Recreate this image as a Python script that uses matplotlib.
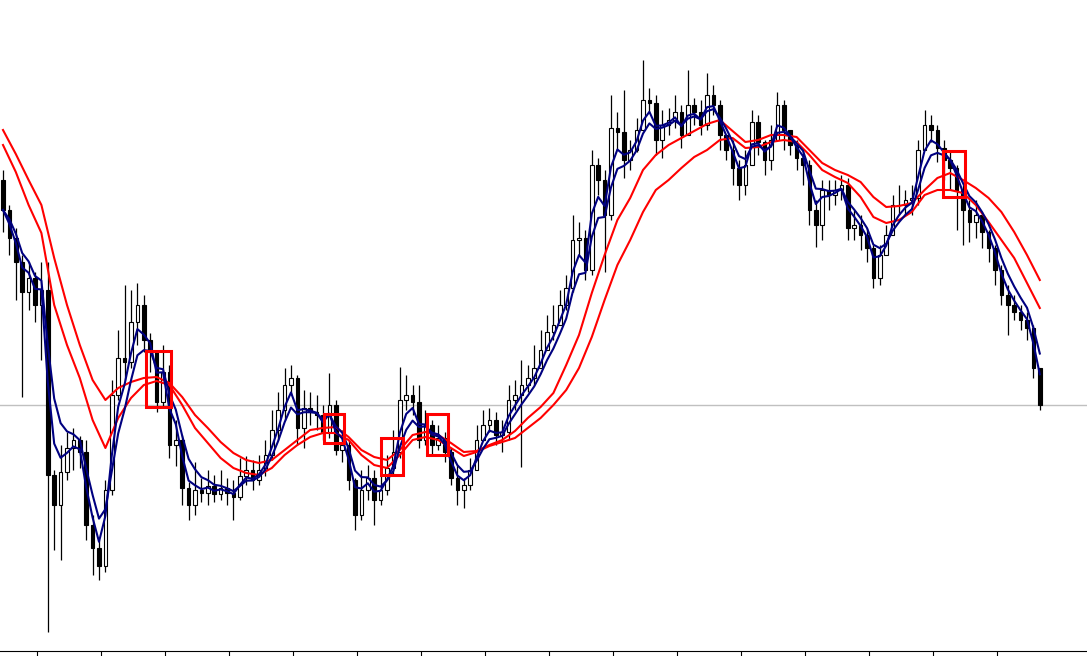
import numpy as np
import pandas as pd
import matplotlib
matplotlib.use('Agg')
import matplotlib.pyplot as plt
from matplotlib.patches import Rectangle

# candle data (price units, one bar per entry, open = previous close)
first_open = 820
closes = [790, 762, 738, 708, 722, 695, 710, 525, 495, 528,
          552, 560, 548, 475, 452, 434, 510, 605, 642, 638,
          678, 695, 660, 648, 598, 628, 555, 560, 512, 495,
          510, 507, 514, 506, 512, 507, 503, 524, 530, 520,
          530, 545, 570, 590, 615, 622, 572, 592, 588, 585,
          568, 595, 550, 555, 520, 485, 510, 522, 500, 510,
          532, 548, 600, 605, 598, 560, 575, 555, 562, 548,
          522, 510, 515, 530, 560, 575, 580, 565, 568, 600,
          605, 615, 622, 632, 650, 668, 675, 695, 712, 760,
          762, 730, 835, 820, 785, 872, 868, 840, 850, 870,
          900, 897, 860, 875, 880, 888, 865, 895, 888, 875,
          905, 895, 865, 850, 832, 815, 835, 878, 858, 840,
          860, 895, 870, 855, 842, 835, 790, 775, 810, 805,
          810, 815, 772, 775, 765, 752, 722, 745, 765, 795,
          795, 800, 802, 850, 875, 870, 852, 840, 832, 810,
          790, 778, 785, 768, 752, 730, 705, 695, 688, 680,
          672, 632, 595]
highs = [830, 795, 772, 745, 738, 728, 738, 738, 530, 555,
         568, 572, 564, 560, 485, 460, 520, 620, 670, 715,
         710, 717, 705, 667, 650, 655, 635, 580, 565, 518,
         538, 522, 530, 525, 530, 522, 520, 542, 544, 540,
         545, 560, 590, 608, 632, 635, 625, 610, 608, 605,
         595, 627, 600, 570, 560, 522, 530, 535, 530, 525,
         545, 570, 633, 625, 615, 615, 590, 580, 575, 568,
         552, 535, 522, 542, 575, 590, 592, 588, 580, 615,
         620, 640, 635, 655, 670, 685, 695, 710, 725, 785,
         778, 770, 850, 842, 830, 905, 888, 910, 860, 882,
         940, 912, 905, 890, 892, 905, 895, 930, 902, 900,
         927, 915, 900, 865, 860, 840, 850, 890, 885, 860,
         875, 908, 900, 865, 860, 850, 840, 800, 820, 820,
         820, 825, 822, 790, 785, 772, 755, 755, 775, 805,
         815, 810, 815, 860, 890, 885, 875, 860, 848, 835,
         815, 800, 800, 788, 770, 755, 735, 715, 705, 695,
         688, 675, 630]
lows = [768, 745, 700, 603, 690, 678, 640, 368, 450, 440,
        520, 530, 532, 460, 425, 420, 428, 505, 600, 620,
        632, 655, 648, 628, 588, 592, 542, 534, 495, 480,
        485, 498, 495, 498, 500, 495, 480, 500, 515, 510,
        515, 524, 540, 560, 580, 605, 555, 552, 575, 570,
        560, 562, 545, 538, 510, 470, 480, 500, 475, 495,
        505, 525, 542, 590, 585, 552, 555, 545, 550, 538,
        515, 495, 492, 510, 530, 560, 568, 555, 548, 560,
        590, 533, 608, 615, 632, 650, 660, 675, 690, 708,
        745, 720, 725, 805, 728, 780, 850, 822, 830, 848,
        870, 888, 845, 842, 865, 872, 852, 882, 875, 865,
        870, 885, 850, 840, 815, 800, 805, 840, 845, 825,
        830, 860, 850, 845, 830, 815, 775, 753, 760, 790,
        795, 800, 760, 760, 750, 738, 712, 715, 745, 770,
        785, 785, 785, 795, 850, 858, 838, 820, 810, 770,
        755, 758, 762, 752, 738, 715, 695, 665, 680, 670,
        660, 622, 590]

# slow averages, one value every 2 bars
red_upper = [870, 846, 820, 795, 742, 695, 655, 620, 600, 612,
             618, 622, 623, 617, 603, 585, 572, 558, 547, 540,
             537, 540, 550, 560, 570, 572, 573, 563, 550, 543,
             540, 550, 565, 568, 565, 557, 548, 549, 555, 560,
             569, 582, 593, 607, 635, 665, 707, 745, 780, 802,
             830, 845, 855, 862, 869, 876, 880, 869, 858, 860,
             865, 865, 863, 850, 837, 830, 825, 818, 803, 793,
             794, 797, 810, 822, 827, 820, 812, 802, 788, 768,
             745, 720]
red_lower = [855, 828, 795, 767, 695, 655, 622, 580, 552, 582,
             602, 615, 619, 615, 595, 572, 557, 542, 532, 527,
             525, 532, 545, 555, 563, 567, 567, 560, 545, 535,
             532, 545, 560, 563, 560, 552, 544, 548, 554, 558,
             562, 572, 582, 595, 610, 632, 663, 700, 735, 760,
             788, 810, 820, 832, 843, 850, 860, 862, 852, 853,
             858, 860, 858, 845, 830, 823, 817, 803, 783, 777,
             780, 788, 805, 810, 810, 807, 795, 778, 760, 742,
             717, 692]

# crossover boxes: bar range and price range
box_start = [22.3, 50.2, 59.1, 66.25, 146.9]
box_end = [26.25, 53.3, 62.5, 69.5, 150.3]
box_top = [649, 586, 562, 586, 849]
box_bottom = [593, 557, 525, 545, 803]

c = np.array(closes, dtype=float)
o = np.r_[first_open, c[:-1]]
h = np.maximum(np.array(highs, dtype=float), np.maximum(o, c))
l = np.minimum(np.array(lows, dtype=float), np.minimum(o, c))
idx = np.arange(len(c))
up = c >= o

ema_fast = pd.Series(c).ewm(span=3, adjust=False).mean()
ema_slow = pd.Series(c).ewm(span=5, adjust=False).mean()
red_x = np.arange(0, len(c), 2)

fig = plt.figure(figsize=(10.87, 6.56), dpi=100)
ax = fig.add_axes([0, 5 / 656, 1, 651 / 656])

ax.vlines(idx, l, h, color='black', lw=0.9, zorder=1)
ax.bar(idx[up], (c - o)[up], bottom=o[up], width=0.55, facecolor='white',
       edgecolor='black', lw=0.8, zorder=2)
ax.bar(idx[~up], (o - c)[~up], bottom=c[~up], width=0.55, color='black',
       edgecolor='black', lw=0.8, zorder=2)

ax.axhline(c[-1], color='#c0c0c0', lw=1, zorder=0)

ax.plot(red_x, red_upper, color='#ff0000', lw=1.5, zorder=3)
ax.plot(red_x, red_lower, color='#ff0000', lw=1.5, zorder=3)
ax.plot(idx, ema_slow, color='#000080', lw=1.5, zorder=4)
ax.plot(idx, ema_fast, color='#000080', lw=1.5, zorder=4)

for s, e, t, b in zip(box_start, box_end, box_top, box_bottom):
    ax.add_patch(Rectangle((s, b), e - s, t - b, fill=False,
                           edgecolor='#ff0000', lw=2.2, zorder=5))

ax.set_xlim(-3 / 6.4, 1084 / 6.4)
ax.set_ylim(349, 1000)
ax.set_xticks(np.arange(5.3125, len(c), 10))
ax.set_xticklabels([])
ax.set_yticks([])
ax.tick_params(axis='x', direction='out', length=3.6, width=0.8, color='black')
for side in ['top', 'left', 'right']:
    ax.spines[side].set_visible(False)
ax.spines['bottom'].set_color('black')
ax.spines['bottom'].set_linewidth(0.8)

fig.savefig('out.png', dpi=100)
